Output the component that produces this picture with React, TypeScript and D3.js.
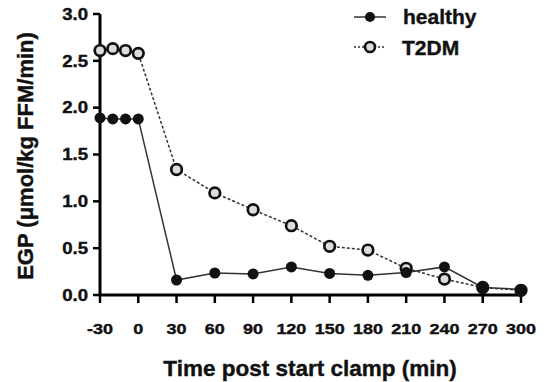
import React from 'react';
import * as d3 from 'd3';

// time points (min) and EGP values
const times = [-30, -20, -10, 0, 30, 60, 90, 120, 150, 180, 210, 240, 270, 300];
const healthy = [1.89, 1.88, 1.88, 1.88, 0.16, 0.235, 0.225, 0.3, 0.23, 0.21, 0.24, 0.3, 0.08, 0.06];
const t2dm = [2.61, 2.63, 2.61, 2.58, 1.34, 1.09, 0.91, 0.74, 0.52, 0.48, 0.285, 0.17, 0.08, 0.05];
const xTicks = [-30, 0, 30, 60, 90, 120, 150, 180, 210, 240, 270, 300];
const yTicks = [0, 0.5, 1.0, 1.5, 2.0, 2.5, 3.0];

const width = 545;
const height = 382;
const margin = { top: 14, right: 24, bottom: 87, left: 100 };
const font = 'Liberation Sans, Arial, sans-serif';

const App = () => {
    const x = d3.scaleLinear()
        .domain([-30, 300])
        .range([margin.left, width - margin.right]);
    const y = d3.scaleLinear()
        .domain([0, 3])
        .range([height - margin.bottom, margin.top]);

    const line = d3.line<number>()
        .x((d, i) => x(times[i]))
        .y(d => y(d));

    const y0 = y(0);

    return (
        <svg width={width} height={height} style={{ position: 'absolute', left: 0, top: 0, background: '#fff' }}>
            {/* lines */}
            <path d={line(t2dm) || ''} fill="none" stroke="#333" strokeWidth={1.5} strokeDasharray="3,2" />
            <path d={line(healthy) || ''} fill="none" stroke="#333" strokeWidth={1.5} />

            {/* axes */}
            <line x1={x(-30)} x2={x(-30)} y1={y(3)} y2={y0} stroke="#000" strokeWidth={3} />
            <line x1={x(-30) - 1.5} x2={x(300) + 1.5} y1={y0} y2={y0} stroke="#000" strokeWidth={3} />
            {yTicks.map(t => (
                <g key={'y' + t}>
                    <line x1={x(-30) - 7} x2={x(-30)} y1={y(t)} y2={y(t)} stroke="#000" strokeWidth={2.5} />
                    <text transform={`translate(${x(-30) - 12},${y(t)}) scale(1.16,1)`} dy="0.36em" textAnchor="end"
                        fontFamily={font} fontWeight="bold" fontSize={16} fill="#111"
                        stroke="#111" strokeWidth={0.4}>{t.toFixed(1)}</text>
                </g>
            ))}
            {xTicks.map(t => (
                <g key={'x' + t}>
                    <line x1={x(t)} x2={x(t)} y1={y0} y2={y0 + 8} stroke="#000" strokeWidth={2.5} />
                    <text transform={`translate(${x(t)},334) scale(1.16,1)`} textAnchor="middle"
                        fontFamily={font} fontWeight="bold" fontSize={15.5} fill="#111"
                        stroke="#111" strokeWidth={0.4}>{t}</text>
                </g>
            ))}

            {/* markers */}
            {t2dm.map((v, i) => (
                <circle key={'t' + i} cx={x(times[i])} cy={y(v)} r={5.3} fill="#ddd" stroke="#111" strokeWidth={2.7} />
            ))}
            {healthy.map((v, i) => (
                <circle key={'h' + i} cx={x(times[i])} cy={y(v)} r={5.5} fill="#111" />
            ))}

            {/* axis titles */}
            <text x={310} y={376} textAnchor="middle"
                fontFamily={font} fontWeight="bold" fontSize={22.5} fill="#111"
                stroke="#111" strokeWidth={0.4}>Time post start clamp (min)</text>
            <text transform={`translate(33,156) rotate(-90)`} textAnchor="middle"
                fontFamily={font} fontWeight="bold" fontSize={22} fill="#111"
                stroke="#111" strokeWidth={0.4}>EGP (μmol/kg FFM/min)</text>

            {/* legend */}
            <line x1={354} x2={386} y1={17} y2={17} stroke="#333" strokeWidth={1.5} />
            <circle cx={370} cy={17} r={5} fill="#111" />
            <text x={403} y={24} fontFamily={font} fontWeight="bold" fontSize={21} fill="#111"
                stroke="#111" strokeWidth={0.4}>healthy</text>
            <line x1={354} x2={386} y1={47} y2={47} stroke="#333" strokeWidth={1.5} strokeDasharray="2,2" />
            <circle cx={370} cy={47} r={5} fill="#ddd" stroke="#111" strokeWidth={2.7} />
            <text x={402} y={55} fontFamily={font} fontWeight="bold" fontSize={21} fill="#111"
                stroke="#111" strokeWidth={0.4}>T2DM</text>
        </svg>
    );
};

export default App;
